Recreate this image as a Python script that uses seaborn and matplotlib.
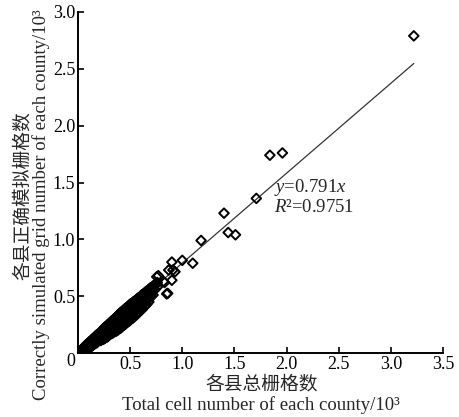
import numpy as np
import pandas as pd
import matplotlib
matplotlib.use("Agg")
import matplotlib.pyplot as plt
import seaborn as sns

# 各县总栅格数 / 各县正确模拟栅格数 (单位 10^3) —— 密集区, 按行读取
dense_x = [0.02, 0.02,
           0.03,
           0.04, 0.04,
           0.05, 0.05,
           0.06, 0.06, 0.06,
           0.07, 0.07,
           0.08, 0.08, 0.08,
           0.09, 0.09,
           0.10, 0.10, 0.10,
           0.11, 0.11, 0.11,
           0.12, 0.12, 0.12,
           0.13, 0.13, 0.13,
           0.14, 0.14, 0.14,
           0.15, 0.15, 0.15,
           0.16, 0.16, 0.16,
           0.17, 0.17, 0.17,
           0.18, 0.18, 0.18,
           0.19, 0.19, 0.19,
           0.20, 0.20, 0.20,
           0.21, 0.21, 0.21,
           0.22, 0.22, 0.22, 0.22,
           0.23, 0.23, 0.23,
           0.24, 0.24, 0.24, 0.24,
           0.25, 0.25, 0.25, 0.25,
           0.26, 0.26, 0.26, 0.26,
           0.27, 0.27, 0.27,
           0.28, 0.28, 0.28, 0.28,
           0.29, 0.29, 0.29, 0.29,
           0.30, 0.30, 0.30, 0.30,
           0.31, 0.31, 0.31,
           0.32, 0.32, 0.32, 0.32,
           0.33, 0.33, 0.33, 0.33,
           0.34, 0.34, 0.34, 0.34,
           0.35, 0.35, 0.35,
           0.36, 0.36, 0.36, 0.36,
           0.37, 0.37, 0.37, 0.37,
           0.38, 0.38, 0.38, 0.38,
           0.39, 0.39, 0.39,
           0.40, 0.40, 0.40, 0.40,
           0.41, 0.41, 0.41, 0.41,
           0.42, 0.42, 0.42, 0.42,
           0.43, 0.43, 0.43,
           0.44, 0.44, 0.44, 0.44,
           0.45, 0.45, 0.45, 0.45,
           0.46, 0.46, 0.46, 0.46,
           0.47, 0.47, 0.47,
           0.48, 0.48, 0.48, 0.48,
           0.49, 0.49, 0.49, 0.49,
           0.50, 0.50, 0.50, 0.50,
           0.51, 0.51, 0.51,
           0.52, 0.52, 0.52, 0.52,
           0.53, 0.53, 0.53, 0.53,
           0.54, 0.54, 0.54, 0.54,
           0.55, 0.55, 0.55,
           0.56, 0.56, 0.56, 0.56,
           0.57, 0.57, 0.57, 0.57,
           0.58, 0.58, 0.58, 0.58,
           0.59, 0.59, 0.59,
           0.60, 0.60, 0.60, 0.60,
           0.61, 0.61, 0.61, 0.61,
           0.62, 0.62, 0.62, 0.62,
           0.63, 0.63, 0.63,
           0.64, 0.64, 0.64, 0.64,
           0.65, 0.65, 0.65, 0.65,
           0.66, 0.66, 0.66, 0.66,
           0.67, 0.67, 0.67,
           0.68, 0.68, 0.68, 0.68,
           0.69, 0.69, 0.69,
           0.70, 0.70, 0.70,
           0.71, 0.71,
           0.72, 0.72, 0.72,
           0.73, 0.73,
           0.74, 0.74,
           0.75,
           0.76, 0.76]
dense_y = [0.020, 0.010,
           0.025,
           0.035, 0.020,
           0.045, 0.030,
           0.055, 0.035, 0.020,
           0.065, 0.045,
           0.075, 0.050, 0.030,
           0.080, 0.055,
           0.090, 0.065, 0.040,
           0.100, 0.070, 0.050,
           0.105, 0.080, 0.050,
           0.115, 0.085, 0.060,
           0.125, 0.095, 0.065,
           0.130, 0.100, 0.075,
           0.140, 0.110, 0.080,
           0.150, 0.120, 0.090,
           0.160, 0.125, 0.090,
           0.165, 0.130, 0.100,
           0.170, 0.140, 0.110,
           0.180, 0.150, 0.120,
           0.190, 0.160, 0.130, 0.110,
           0.200, 0.170, 0.135,
           0.210, 0.180, 0.150, 0.120,
           0.220, 0.185, 0.150, 0.125,
           0.230, 0.195, 0.160, 0.130,
           0.235, 0.200, 0.165,
           0.245, 0.210, 0.175, 0.140,
           0.250, 0.215, 0.180, 0.150,
           0.260, 0.225, 0.190, 0.160,
           0.270, 0.230, 0.195,
           0.280, 0.240, 0.200, 0.170,
           0.285, 0.245, 0.210, 0.175,
           0.295, 0.255, 0.215, 0.180,
           0.300, 0.260, 0.220,
           0.310, 0.270, 0.230, 0.190,
           0.320, 0.280, 0.240, 0.195,
           0.330, 0.290, 0.245, 0.200,
           0.340, 0.295, 0.250,
           0.350, 0.305, 0.260, 0.215,
           0.355, 0.310, 0.270, 0.220,
           0.365, 0.320, 0.275, 0.230,
           0.370, 0.325, 0.280,
           0.380, 0.335, 0.290, 0.245,
           0.390, 0.340, 0.300, 0.250,
           0.395, 0.350, 0.300, 0.260,
           0.400, 0.355, 0.310,
           0.410, 0.365, 0.320, 0.275,
           0.420, 0.370, 0.325, 0.280,
           0.430, 0.380, 0.335, 0.290,
           0.435, 0.390, 0.340,
           0.440, 0.395, 0.350, 0.305,
           0.450, 0.400, 0.355, 0.310,
           0.455, 0.410, 0.365, 0.320,
           0.460, 0.415, 0.370,
           0.470, 0.425, 0.380, 0.335,
           0.480, 0.430, 0.390, 0.345,
           0.485, 0.440, 0.395, 0.355,
           0.490, 0.445, 0.400,
           0.500, 0.455, 0.410, 0.375,
           0.510, 0.460, 0.420, 0.380,
           0.515, 0.470, 0.430, 0.390,
           0.520, 0.480, 0.440,
           0.530, 0.490, 0.450, 0.410,
           0.540, 0.500, 0.455, 0.420,
           0.545, 0.505, 0.465, 0.430,
           0.550, 0.510, 0.470,
           0.560, 0.520, 0.480, 0.450,
           0.570, 0.530, 0.490,
           0.575, 0.535, 0.500,
           0.580, 0.540,
           0.590, 0.550, 0.510,
           0.595, 0.555,
           0.600, 0.560,
           0.610,
           0.620, 0.580]

# 离散点
sparse_x = [0.755, 0.77, 0.82, 0.83, 0.85, 0.86, 0.87, 0.90, 0.90, 0.91, 0.93, 1.00, 1.10,
            1.18, 1.40, 1.44, 1.51, 1.71, 1.84, 1.96, 3.22]
sparse_y = [0.67, 0.68, 0.63, 0.62, 0.52, 0.525, 0.73, 0.80, 0.64, 0.73, 0.715, 0.815, 0.79,
            0.99, 1.23, 1.06, 1.04, 1.36, 1.74, 1.76, 2.79]

slope = 0.791
r2 = 0.9751
fit_x = [0.0, 3.22]

df = pd.DataFrame({"total": dense_x + sparse_x, "correct": dense_y + sparse_y})
fit = pd.DataFrame({"x": fit_x, "y": [slope * v for v in fit_x]})

sns.set_theme(style="ticks")
plt.rcParams['font.family'] = ['Liberation Serif', 'Noto Sans CJK SC']
plt.rcParams['mathtext.fontset'] = 'custom'
plt.rcParams['mathtext.rm'] = 'Liberation Serif'
plt.rcParams['mathtext.it'] = 'Liberation Serif:italic'
plt.rcParams['axes.unicode_minus'] = False

fs_tick = 13
fs_lab = 13.5

W, H = 460, 417
fig = plt.figure(figsize=(W / 100, H / 100), dpi=100)
ax = fig.add_axes([78 / W, 1 - 353 / H, (443 - 78) / W, (353 - 12) / H])

sns.lineplot(data=fit, x="x", y="y", ax=ax, color="#333333", linewidth=0.9)
# 空心菱形, 不填充 -> 密集处叠成实心
sns.scatterplot(data=df, x="total", y="correct", ax=ax, marker="D", s=24,
                facecolor="none", edgecolor="black", linewidth=1.4, zorder=3)

ax.set_xlim(0, 3.5)
ax.set_ylim(0, 3.0)
ax.set_xticks([0.5, 1.0, 1.5, 2.0, 2.5, 3.0, 3.5])
ax.set_xticklabels(["0.5", "1.0", "1.5", "2.0", "2.5", "3.0", "3.5"])
ax.set_yticks([0, 0.5, 1.0, 1.5, 2.0, 2.5, 3.0])
ax.set_yticklabels(["0", "0.5", "1.0", "1.5", "2.0", "2.5", "3.0"])
ax.tick_params(direction="in", length=4, width=1.2, labelsize=fs_tick, colors="black")
ax.tick_params(axis="x", pad=2)
ax.tick_params(axis="y", pad=2)
ax.get_yticklabels()[0].set_va("top")
for side in ["top", "right"]:
    ax.spines[side].set_visible(False)
for side in ["left", "bottom"]:
    ax.spines[side].set_linewidth(1.4)
    ax.spines[side].set_color("black")
ax.set_xlabel("")
ax.set_ylabel("")

# 坐标轴标题 (中英文两行)
fig.text(262 / W, 1 - 385 / H, "各县总栅格数", fontsize=fs_lab, ha="center", va="center")
fig.text(261 / W, 1 - 405 / H, "Total cell number of each county/10³", fontsize=fs_lab,
         ha="center", va="center")
fig.text(23 / W, 1 - 196 / H, "各县正确模拟栅格数", fontsize=fs_lab, rotation=90,
         ha="center", va="center")
fig.text(41 / W, 1 - 205 / H, "Correctly simulated grid number of each county/10³",
         fontsize=fs_lab, rotation=90, ha="center", va="center")

ax.text(1.88, 1.46, r"$y$=0.791$x$", fontsize=fs_lab, va="center", ha="left")
ax.text(1.88, 1.28, r"$R$²=0.9751", fontsize=fs_lab, va="center", ha="left")

fig.savefig("out.png", dpi=100)
